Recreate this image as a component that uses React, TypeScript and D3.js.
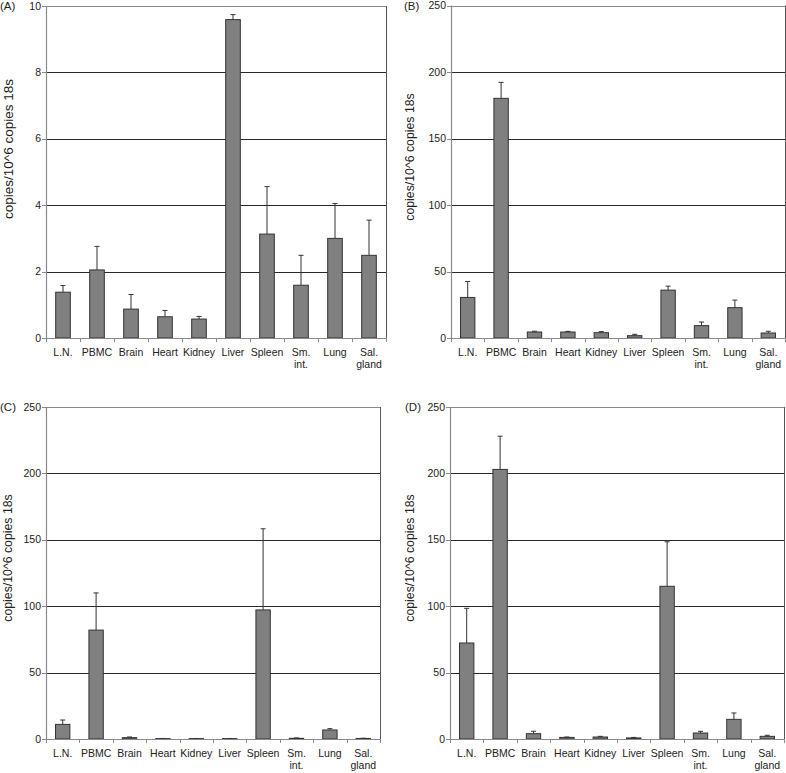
import React from "react";
import * as d3 from "d3";

const categories = ["L.N.", "PBMC", "Brain", "Heart", "Kidney", "Liver", "Spleen", "Sm. int.", "Lung", "Sal. gland"];

const valuesA = [1.38, 2.05, 0.87, 0.64, 0.57, 9.59, 3.13, 1.59, 3.0, 2.49];
const errorsA = [0.2, 0.71, 0.44, 0.19, 0.08, 0.15, 1.43, 0.9, 1.05, 1.06];

const valuesB = [30.5, 180.2, 4.5, 4.5, 4.0, 1.75, 36.0, 9.3, 22.8, 3.75];
const errorsB = [12.0, 12.0, 0.6, 0.5, 0.8, 1.0, 3.0, 2.7, 5.7, 1.3];

const valuesC = [11.0, 82.0, 1.0, 0.3, 0.3, 0.3, 97.2, 0.5, 6.8, 0.4];
const errorsC = [3.3, 28.0, 0.5, 0.1, 0.1, 0.1, 61.1, 0.3, 1.0, 0.2];

const valuesD = [72.3, 203.0, 4.0, 1.2, 1.5, 0.8, 115.0, 4.5, 14.8, 2.0];
const errorsD = [26.1, 25.0, 1.8, 0.3, 0.5, 0.4, 33.5, 1.3, 4.8, 0.8];

const ticksA = [0, 2, 4, 6, 8, 10];
const ticksBCD = [0, 50, 100, 150, 200, 250];

const panelLetters = ["(A)", "(B)", "(C)", "(D)"];
const yAxisTitle = "copies/10^6 copies 18s";

const FONT = "'Liberation Sans', Arial, Helvetica, sans-serif";

type PanelProps = {
  letter: string;
  values: number[];
  errors: number[];
  ticks: number[];
  left: number;
  right: number;
  top: number;
  bottom: number;
  titleX: number;
  titleY: number;
  titleSize: number;
  letterX: number;
};

function Panel({ letter, values, errors, ticks, left, right, top, bottom, titleX, titleY, titleSize, letterX }: PanelProps) {
  const x = d3.scaleBand<string>().domain(categories).range([left, right]).paddingInner(0).paddingOuter(0);
  const y = d3.scaleLinear().domain([0, d3.max(ticks) as number]).range([bottom, top]);
  const bw = x.bandwidth() * 0.43;
  const capW = 5;
  const axisColor = "#8a8a8a";
  const gridColor = "#2a2a2a";
  const boundaries = categories.map((c) => x(c) as number).concat([right]);
  return (
    <g>
      {ticks.filter((t) => t > 0 && t < (d3.max(ticks) as number)).map((t) => (
        <line key={"g" + t} x1={left} x2={right} y1={Math.round(y(t)) + 0.5} y2={Math.round(y(t)) + 0.5} stroke={gridColor} strokeWidth={1} />
      ))}
      <line x1={left} x2={right} y1={Math.round(top) + 0.5} y2={Math.round(top) + 0.5} stroke={axisColor} strokeWidth={1.2} />
      <line x1={Math.round(right) + 0.5} x2={Math.round(right) + 0.5} y1={top} y2={bottom} stroke="#555" strokeWidth={1} />
      {categories.map((c, i) => {
        const cx = (x(c) as number) + x.bandwidth() / 2;
        const yTop = y(values[i]);
        const yErr = y(values[i] + errors[i]);
        return (
          <g key={c}>
            <line x1={cx} x2={cx} y1={yTop} y2={yErr} stroke="#333" strokeWidth={1} />
            <line x1={cx - capW / 2} x2={cx + capW / 2} y1={yErr} y2={yErr} stroke="#333" strokeWidth={1} />
            <rect x={cx - bw / 2} y={yTop} width={bw} height={bottom - yTop} fill="#808080" stroke="#333" strokeWidth={1} />
          </g>
        );
      })}
      <line x1={Math.round(left) + 0.5} x2={Math.round(left) + 0.5} y1={top} y2={bottom} stroke={axisColor} strokeWidth={1.2} />
      {ticks.map((t) => (
        <g key={"t" + t}>
          <line x1={left - 4} x2={left} y1={Math.round(y(t)) + 0.5} y2={Math.round(y(t)) + 0.5} stroke={axisColor} />
          <text x={left - 5} y={y(t)} dy="0.35em" textAnchor="end" fontSize={10.5} fontFamily={FONT} fill="#222">{t}</text>
        </g>
      ))}
      <line x1={left} x2={right} y1={Math.round(bottom) + 0.5} y2={Math.round(bottom) + 0.5} stroke={axisColor} strokeWidth={1.2} />
      {boundaries.map((b, i) => (
        <line key={"b" + i} x1={Math.round(b) + 0.5} x2={Math.round(b) + 0.5} y1={bottom} y2={bottom + 4} stroke={axisColor} />
      ))}
      {categories.map((c) => {
        const cx = (x(c) as number) + x.bandwidth() / 2;
        const lines = c.split(" ");
        return (
          <text key={"l" + c} x={cx} y={bottom + 18} textAnchor="middle" fontSize={10.5} fontFamily={FONT} fill="#222">
            {lines.map((ln, k) => (
              <tspan key={k} x={cx} dy={k === 0 ? 0 : 12}>{ln}</tspan>
            ))}
          </text>
        );
      })}
      <text transform={`translate(${titleX},${titleY}) rotate(-90)`} textAnchor="middle" dy="0.35em" fontSize={titleSize} fontFamily={FONT} fill="#222">{yAxisTitle}</text>
      <text x={letterX} y={top} dy="0.35em" fontSize={11.5} fontFamily={FONT} fill="#222">{letter}</text>
    </g>
  );
}

export default function App() {
  return (
    <svg width={786} height={773} style={{ position: "absolute", left: 0, top: 0, background: "#fff" }}>
      <rect width={786} height={773} fill="#fff" />
      <Panel letter={panelLetters[0]} values={valuesA} errors={errorsA} ticks={ticksA} left={46} right={386} top={6} bottom={338} titleX={8} titleY={149} titleSize={13.5} letterX={0} />
      <Panel letter={panelLetters[1]} values={valuesB} errors={errorsB} ticks={ticksBCD} left={451} right={785} top={5.5} bottom={338} titleX={410} titleY={157} titleSize={12.3} letterX={404} />
      <Panel letter={panelLetters[2]} values={valuesC} errors={errorsC} ticks={ticksBCD} left={46} right={380} top={407} bottom={739} titleX={8} titleY={558} titleSize={12.3} letterX={0} />
      <Panel letter={panelLetters[3]} values={valuesD} errors={errorsD} ticks={ticksBCD} left={450} right={784} top={407} bottom={739} titleX={410} titleY={558} titleSize={12.3} letterX={405} />
    </svg>
  );
}
